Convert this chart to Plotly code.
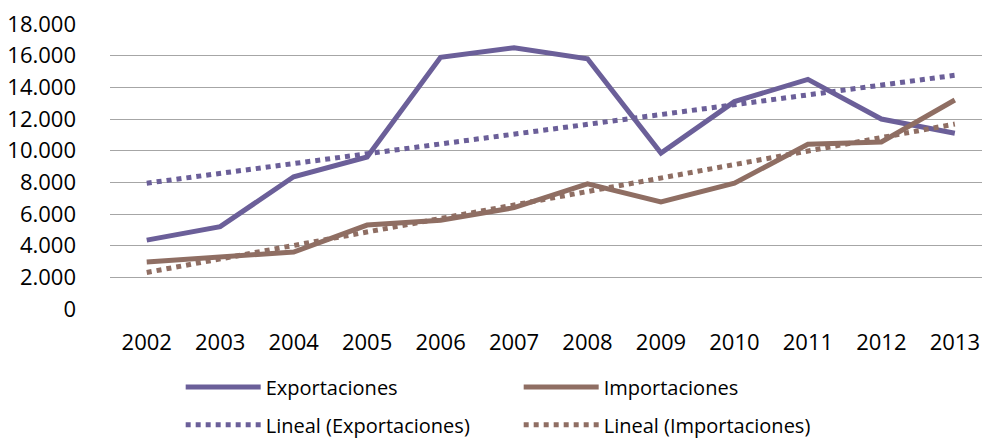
import numpy as np
import plotly.graph_objects as go

years = ["2002", "2003", "2004", "2005", "2006", "2007", "2008", "2009", "2010", "2011", "2012", "2013"]
exportaciones = [4350, 5200, 8350, 9600, 15900, 16500, 15800, 9850, 13100, 14500, 12000, 11100]
importaciones = [2970, 3300, 3600, 5300, 5600, 6400, 7900, 6760, 7950, 10400, 10550, 13200]
y_ticks = [0, 2000, 4000, 6000, 8000, 10000, 12000, 14000, 16000, 18000]
y_tick_text = ["0", "2.000", "4.000", "6.000", "8.000", "10.000", "12.000", "14.000", "16.000", "18.000"]

c_exp = "#6b5f99"
c_imp = "#8f6e63"
FONT = "Open Sans"

idx = np.arange(len(years))
def trend(vals):
    m, b = np.polyfit(idx, vals, 1)
    return (m * idx + b).tolist()

fig = go.Figure()
fig.add_trace(go.Scatter(x=years, y=exportaciones, mode="lines", name="Exportaciones",
                         line=dict(color=c_exp, width=5), legend="legend"))
fig.add_trace(go.Scatter(x=years, y=importaciones, mode="lines", name="Importaciones",
                         line=dict(color=c_imp, width=5), legend="legend"))
fig.add_trace(go.Scatter(x=years, y=trend(exportaciones), mode="lines", name="Lineal (Exportaciones)",
                         line=dict(color=c_exp, width=5, dash="dot"), legend="legend2"))
fig.add_trace(go.Scatter(x=years, y=trend(importaciones), mode="lines", name="Lineal (Importaciones)",
                         line=dict(color=c_imp, width=5, dash="dot"), legend="legend2"))

legend_common = dict(orientation="h", xref="container", yref="container", x=0.184, xanchor="left",
                     yanchor="middle", entrywidth=248, entrywidthmode="pixels", itemwidth=75,
                     font=dict(family=FONT, size=20, color="#000"), bgcolor="rgba(0,0,0,0)")

fig.update_layout(
    width=982, height=438,
    margin=dict(l=110, r=0, t=24, b=129),
    paper_bgcolor="white", plot_bgcolor="white",
    font=dict(family=FONT, size=20, color="#000"),
    showlegend=True,
    legend=dict(legend_common, y=0.1164),
    legend2=dict(legend_common, y=0.030),
    xaxis=dict(type="category", range=[-0.5, 11.37], showgrid=False, showline=False, zeroline=False,
               ticks="", tickfont=dict(family=FONT, size=22, color="#000"), ticklabelstandoff=18),
    yaxis=dict(range=[0, 18000], tickvals=y_ticks, ticktext=y_tick_text, showgrid=True,
               gridcolor="#a6a6a6", gridwidth=1, zeroline=False, showline=False, ticks="",
               tickfont=dict(family=FONT, size=22, color="#000"), ticklabelstandoff=33),
)

fig.write_html("out.html", config={"displayModeBar": False},
               post_script="document.body.style.margin='0';document.body.style.overflow='hidden';")
